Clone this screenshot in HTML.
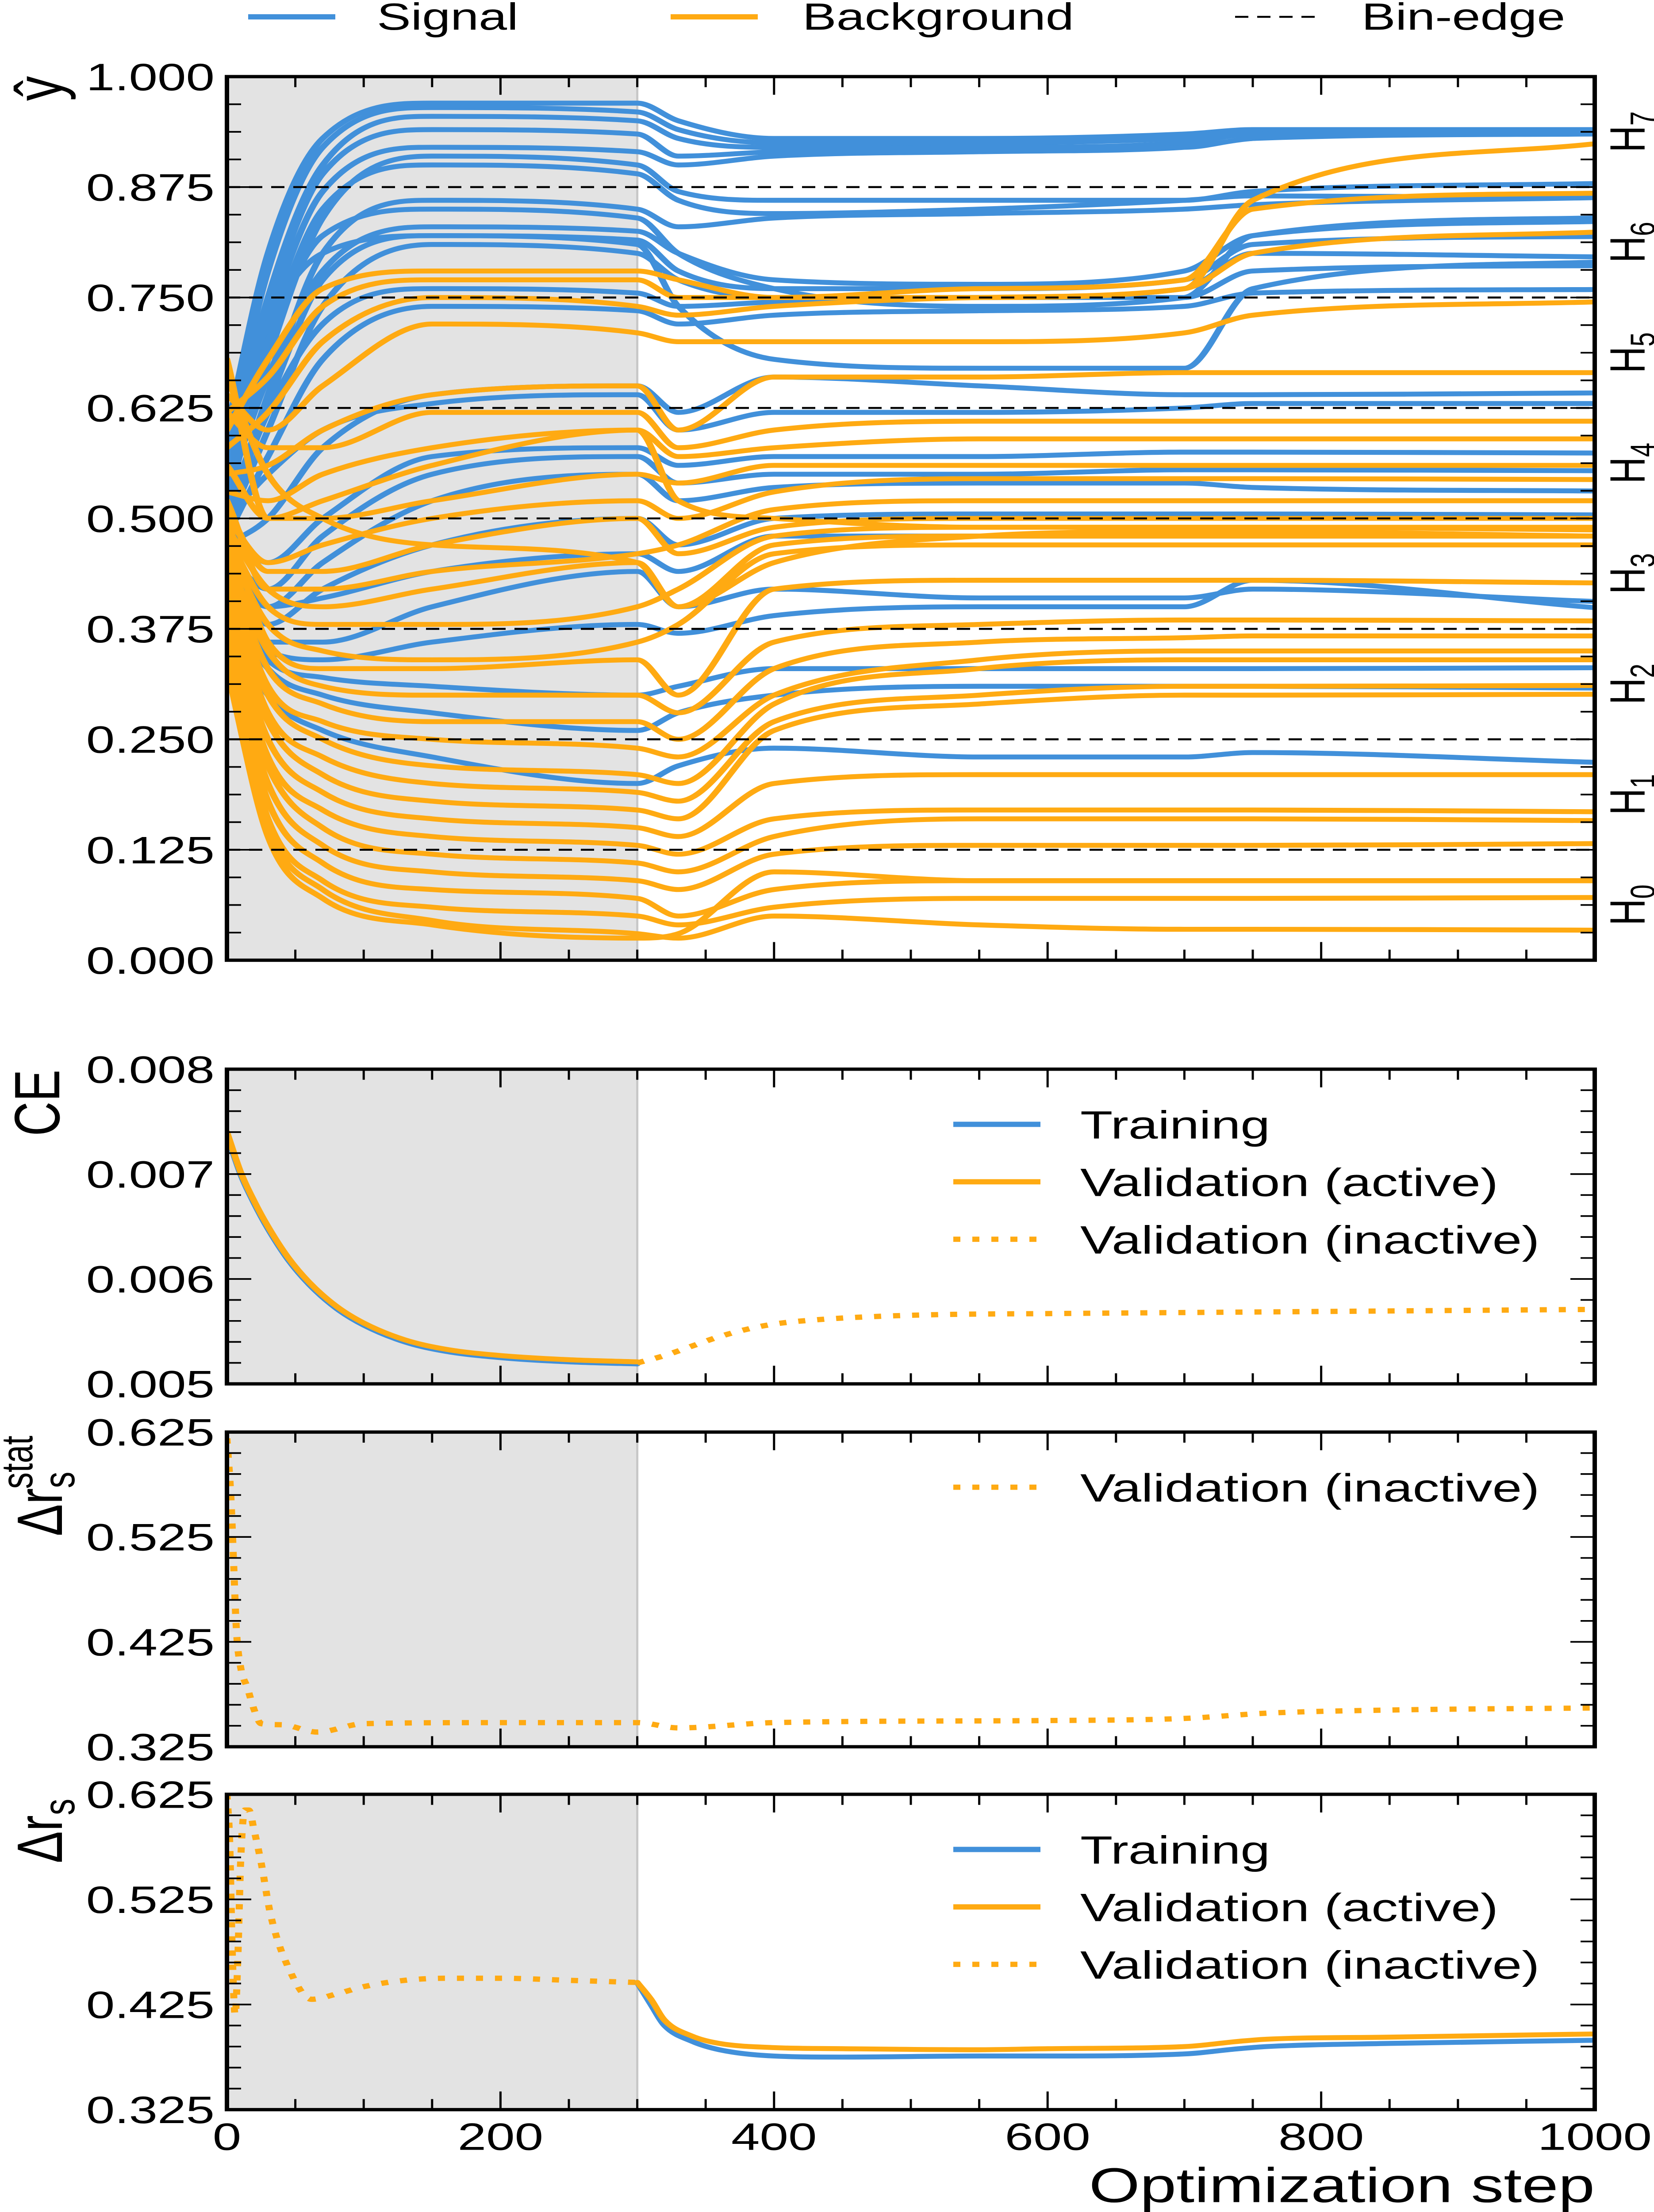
<!DOCTYPE html>
<html><head><meta charset="utf-8"><title>Optimization chart</title>
<style>
html,body{margin:0;padding:0;background:#fff;overflow:hidden;width:100%;height:100%;}
svg{display:block;position:absolute;left:0;top:0;width:100vw;height:100vh;font-family:"Liberation Sans",Arial,sans-serif;overflow:hidden;}
</style></head>
<body>
<svg id="chart" xmlns="http://www.w3.org/2000/svg" viewBox="0 0 3739 6699" preserveAspectRatio="none"></svg>
<script>
// ---------- DATA ----------
const steps = [0,30,70,150,300,330,400,550,700,750,1000];
const signalLines = [
 [.60,.80,.93,.97,.97,.95,.93,.93,.935,.94,.94],
 [.58,.78,.92,.965,.96,.94,.925,.925,.93,.935,.94],
 [.56,.75,.90,.955,.95,.93,.92,.92,.925,.935,.936],
 [.57,.74,.89,.94,.935,.91,.915,.92,.92,.93,.935],
 [.55,.72,.87,.92,.915,.90,.91,.915,.92,.93,.94],
 [.52,.68,.84,.91,.90,.87,.86,.86,.86,.87,.879],
 [.54,.70,.85,.90,.89,.86,.845,.85,.86,.865,.863],
 [.50,.64,.80,.86,.85,.83,.84,.845,.85,.855,.863],
 [.53,.66,.78,.83,.825,.80,.77,.765,.78,.82,.836],
 [.51,.63,.77,.82,.815,.78,.76,.76,.77,.81,.819],
 [.49,.60,.74,.81,.80,.77,.75,.75,.76,.80,.796],
 [.50,.62,.72,.76,.755,.74,.745,.75,.75,.78,.786],
 [.48,.57,.68,.74,.735,.72,.73,.735,.74,.755,.759],
 [.58,.72,.80,.82,.81,.74,.68,.67,.67,.76,.79],
 [.55,.70,.82,.85,.84,.80,.76,.74,.75,.82,.84],
 [.47,.50,.58,.64,.65,.62,.66,.65,.64,.64,.642],
 [.50,.55,.60,.63,.64,.60,.62,.62,.625,.63,.630],
 [.49,.45,.50,.57,.58,.56,.57,.57,.575,.575,.574],
 [.46,.42,.48,.55,.57,.54,.55,.55,.555,.555,.554],
 [.48,.40,.45,.52,.55,.52,.535,.54,.54,.535,.531],
 [.45,.38,.42,.47,.50,.47,.50,.505,.505,.505,.504],
 [.44,.40,.41,.44,.46,.44,.48,.48,.48,.48,.48],
 [.42,.36,.36,.40,.44,.40,.42,.41,.41,.42,.406],
 [.40,.35,.34,.36,.38,.37,.39,.40,.40,.43,.399],
 [.43,.34,.32,.31,.30,.31,.33,.33,.33,.33,.331],
 [.41,.33,.30,.28,.26,.28,.30,.31,.31,.31,.308],
 [.39,.30,.26,.23,.20,.22,.24,.23,.23,.235,.224]
];
const backgroundLines = [
 [.60,.68,.76,.78,.78,.77,.75,.75,.76,.86,.924],
 [.62,.66,.74,.77,.77,.75,.75,.76,.77,.85,.868],
 [.58,.62,.70,.75,.74,.73,.74,.75,.76,.80,.824],
 [.64,.60,.65,.72,.71,.70,.70,.70,.71,.73,.745],
 [.55,.56,.60,.64,.65,.60,.66,.66,.665,.665,.665],
 [.62,.58,.58,.62,.62,.58,.60,.61,.61,.61,.610],
 [.53,.52,.55,.58,.60,.57,.58,.59,.59,.59,.590],
 [.68,.50,.50,.52,.55,.54,.56,.56,.56,.56,.560],
 [.50,.45,.47,.50,.52,.50,.53,.545,.545,.545,.544],
 [.52,.42,.42,.44,.46,.47,.51,.52,.52,.52,.520],
 [.66,.55,.50,.47,.45,.40,.45,.48,.485,.485,.48],
 [.49,.42,.40,.42,.45,.40,.47,.48,.48,.48,.48],
 [.51,.44,.44,.47,.50,.46,.49,.50,.50,.50,.50],
 [.56,.50,.52,.56,.60,.52,.50,.49,.49,.49,.49],
 [.48,.40,.38,.38,.40,.42,.48,.49,.49,.49,.487],
 [.47,.38,.35,.34,.36,.38,.46,.47,.47,.47,.470],
 [.50,.36,.33,.33,.34,.30,.42,.43,.43,.43,.427],
 [.46,.35,.31,.30,.30,.28,.36,.38,.385,.385,.384],
 [.45,.33,.29,.27,.27,.25,.33,.36,.365,.367,.367],
 [.44,.31,.27,.25,.24,.23,.30,.34,.35,.35,.350],
 [.43,.30,.25,.22,.21,.20,.29,.33,.34,.34,.340],
 [.42,.28,.23,.20,.19,.18,.27,.30,.31,.31,.311],
 [.41,.27,.21,.18,.17,.16,.26,.29,.30,.30,.301],
 [.40,.25,.19,.16,.15,.14,.20,.21,.21,.21,.210],
 [.39,.23,.17,.14,.13,.12,.16,.17,.17,.17,.168],
 [.38,.22,.15,.12,.11,.10,.14,.16,.16,.16,.158],
 [.37,.20,.13,.10,.09,.08,.12,.13,.13,.13,.132],
 [.33,.14,.07,.04,.025,.03,.10,.09,.09,.09,.09],
 [.36,.18,.11,.08,.07,.05,.08,.09,.09,.09,.090],
 [.35,.16,.09,.06,.05,.04,.06,.07,.07,.07,.071],
 [.34,.15,.08,.045,.03,.025,.05,.04,.035,.035,.034]
];
const binEdges = [0.125,0.25,0.375,0.5,0.625,0.75,0.875];
const binLabels = ["0","1","2","3","4","5","6","7"];
const mainYTicks = ["0.000","0.125","0.250","0.375","0.500","0.625","0.750","0.875","1.000"];

const ceSteps = [0,10,20,30,45,60,80,100,130,160,200,250,300];
const ceTraining = [.00738,.0070,.00672,.00648,.00618,.00595,.00572,.00556,.0054,.00531,.00525,.00521,.00519];
const ceValActive = [.00740,.00702,.00674,.0065,.0062,.00597,.00574,.00558,.00542,.00533,.00527,.00523,.00521];
const ceInSteps = [300,320,340,360,380,400,430,470,520,600,700,800,900,1000];
const ceValInactive = [.00520,.00527,.00536,.00545,.00552,.00557,.00561,.00564,.00566,.00567,.00568,.00569,.00570,.00571];
const ceYTicks = ["0.005","0.006","0.007","0.008"];

const statSteps = [0,3,5,7,10,15,20,25,40,66,100,200,300,330,400,600,700,760,850,1000];
const statValInactive = [.619,.56,.496,.435,.401,.381,.36,.347,.346,.339,.347,.348,.348,.343,.348,.350,.352,.357,.360,.362];
const rTicks = ["0.325","0.425","0.525","0.625"];

const rsSteps = [300,310,320,340,360,400,450,550,600,700,740,760,850,1000];
const rsTraining = [.446,.425,.405,.39,.382,.376,.375,.376,.376,.378,.383,.385,.388,.391];
const rsValActive = [.446,.43,.41,.395,.388,.384,.383,.382,.383,.385,.390,.392,.394,.397];
const rsInSteps = [0,2,4,6,8,10,13,16,20,25,32,45,62,80,100,130,160,200,250,300];
const rsValInactive = [.625,.58,.47,.415,.47,.56,.61,.61,.59,.56,.51,.46,.43,.435,.442,.448,.45,.45,.448,.446];

const xTicks = ["0","200","400","600","800","1000"];

// ---------- LAYOUT ----------
const NS="http://www.w3.org/2000/svg";
const svg=document.getElementById('chart');
const L=513,R=3605;
const BLUE="#4190da",ORANGE="#ffaa12";
function X(s){return L+(s/1000)*(R-L);}
function mk(tag,attrs,parent){const e=document.createElementNS(NS,tag);for(const k in attrs)e.setAttribute(k,attrs[k]);(parent||svg).appendChild(e);return e;}
function yf(p){return v=>p.bot-(v-p.ymin)/(p.ymax-p.ymin)*(p.bot-p.top);}
function monoPath(pts){
  const n=pts.length;if(n<2)return "";
  const dx=[],m=[];
  for(let i=0;i<n-1;i++){dx.push(pts[i+1][0]-pts[i][0]);m.push((pts[i+1][1]-pts[i][1])/dx[i]);}
  const t=[m[0]];
  for(let i=1;i<n-1;i++){t.push(m[i-1]*m[i]<=0?0:(m[i-1]+m[i])/2);}
  t.push(m[n-2]);
  for(let i=0;i<n-1;i++){
    if(m[i]===0){t[i]=0;t[i+1]=0;continue;}
    const a=t[i]/m[i],b=t[i+1]/m[i],h=a*a+b*b;
    if(h>9){const s=3/Math.sqrt(h);t[i]=s*a*m[i];t[i+1]=s*b*m[i];}
  }
  let d="M"+pts[0][0].toFixed(1)+","+pts[0][1].toFixed(1);
  for(let i=0;i<n-1;i++){
    const h=dx[i]/3;
    d+="C"+(pts[i][0]+h).toFixed(1)+","+(pts[i][1]+t[i]*h).toFixed(1)+" "+(pts[i+1][0]-h).toFixed(1)+","+(pts[i+1][1]-t[i+1]*h).toFixed(1)+" "+pts[i+1][0].toFixed(1)+","+pts[i+1][1].toFixed(1);
  }
  return d;
}
const panels={
  main:{top:232,bot:2908,ymin:0,ymax:1,yMajor:0.125,yMinor:0.03125,name:'yhat-panel'},
  ce:{top:3238,bot:4191,ymin:0.005,ymax:0.008,yMajor:0.001,yMinor:0.0002,name:'ce-panel'},
  stat:{top:4337,bot:5290,ymin:0.325,ymax:0.625,yMajor:0.1,yMinor:0.02,name:'delta-r-stat-panel'},
  rs:{top:5434,bot:6389,ymin:0.325,ymax:0.625,yMajor:0.1,yMinor:0.02,name:'delta-r-panel'}
};
const defs=mk('defs',{});
function panelBase(p,key){
  const g=mk('g',{});
  
  
  const cp=mk('clipPath',{id:'clip-'+key},defs);
  mk('rect',{x:L,y:p.top,width:R-L,height:p.bot-p.top},cp);
  const sh=mk('rect',{x:L,y:p.top,width:X(300)-L,height:p.bot-p.top,fill:'#e3e3e3'},g);
  
  
  mk('line',{x1:X(300),x2:X(300),y1:p.top,y2:p.bot,stroke:'#c8c8c8','stroke-width':5},g);
  const dg=mk('g',{'clip-path':'url(#clip-'+key+')'},g);
  return {g,dg};
}
function panelFrame(p,g){
  const Y=yf(p);
  const fr=mk('rect',{x:L,y:p.top,width:R-L,height:p.bot-p.top,fill:'none',stroke:'#000','stroke-width':10},g);
  
  
  for(let s=0;s<=1000;s+=50){
    const len=(s%200===0)?55:32;
    mk('line',{x1:X(s),x2:X(s),y1:p.bot,y2:p.bot-len,stroke:'#000','stroke-width':5},g);
    mk('line',{x1:X(s),x2:X(s),y1:p.top,y2:p.top+len,stroke:'#000','stroke-width':5},g);
  }
  const nMin=Math.round((p.ymax-p.ymin)/p.yMinor);
  const ratio=Math.round(p.yMajor/p.yMinor);
  for(let i=0;i<=nMin;i++){
    const v=p.ymin+i*p.yMinor,len=(i%ratio===0)?55:32;
    mk('line',{x1:L,x2:L+len,y1:Y(v),y2:Y(v),stroke:'#000','stroke-width':5},g);
    mk('line',{x1:R,x2:R-len,y1:Y(v),y2:Y(v),stroke:'#000','stroke-width':5},g);
  }
}
function yLabels(p,g,labels){
  const Y=yf(p);
  labels.forEach(t=>{
    const tx=mk('text',{x:485,y:Y(parseFloat(t))+41,'text-anchor':'end','font-size':116},g);
    tx.textContent=t;
    
    
  });
}
function series(p,g,xs,ys,color,dotted,name){
  const Y=yf(p);
  const pts=xs.map((s,i)=>[X(s),Y(ys[i])]);
  const a={d:monoPath(pts),fill:'none',stroke:color,'stroke-width':dotted?16:15,'stroke-linejoin':'round'};
  if(dotted){a['stroke-dasharray']='16 27';}else{a['stroke-linecap']='round';}
  const e=mk('path',a,g);
  
  
  return e;
}
function legend(p,g,rows){
  rows.forEach((r,i)=>{
    const y=p.top+167+i*174;
    const ln=mk('line',{x1:2155,x2:2352,y1:y,y2:y,stroke:r.c,'stroke-width':16},g);
    if(r.dot)ln.setAttribute('stroke-dasharray','16 27');
    
    
    const t=mk('text',{x:2442,y:y+43,'font-size':120},g);
    t.textContent=r.t;
    
    
  });
}

// ---------- MAIN PANEL ----------
(function(){
  const p=panels.main,{g,dg}=panelBase(p,'main'),Y=yf(p);
  signalLines.forEach((v,i)=>{series(p,dg,steps,v,BLUE,false,'signal-line-'+i);});
  backgroundLines.forEach((v,i)=>{series(p,dg,steps,v,ORANGE,false,'background-line-'+i);});
  binEdges.forEach(b=>{
    const e=mk('line',{x1:L,x2:R,y1:Y(b),y2:Y(b),stroke:'#000','stroke-width':6,'stroke-dasharray':'30 20'},g);
    
    
  });
  panelFrame(p,g);
  yLabels(p,g,mainYTicks);
  binLabels.forEach((b,i)=>{
    const cy=Y((i+0.5)*0.125);
    const t=mk('text',{x:0,y:0,'font-size':112,'text-anchor':'middle',transform:'translate(3718,'+cy+') rotate(-90)'},g);
    
    
    t.appendChild(document.createTextNode('H'));
    const s=mk('tspan',{'font-size':78,dy:22},t);s.textContent=b;
  });
  const yt=mk('text',{x:0,y:0,'font-size':150,'text-anchor':'middle',transform:'translate(140,268) rotate(-90)'},g);
  yt.textContent='ŷ';
  
  
})();

// ---------- TOP LEGEND ----------
(function(){
  const g=mk('g',{});
  
  
  const items=[{x:561,c:BLUE,t:'Signal',tx:852},{x:1516,c:ORANGE,t:'Background',tx:1814},{x:2792,c:'#000',t:'Bin-edge',tx:3078,d:true}];
  items.forEach(it=>{
    const l=mk('line',{x1:it.x,x2:it.x+197,y1:51,y2:51,stroke:it.c,'stroke-width':it.d?6:16},g);
    if(it.d)l.setAttribute('stroke-dasharray','30 20');
    
    
    const t=mk('text',{x:it.tx,y:90,'font-size':115},g);
    t.textContent=it.t;
    
    
  });
})();

// ---------- CE PANEL ----------
(function(){
  const p=panels.ce,{g,dg}=panelBase(p,'ce');
  series(p,dg,ceSteps,ceTraining,BLUE,false,'ce-training-line');
  series(p,dg,ceSteps,ceValActive,ORANGE,false,'ce-validation-active-line');
  series(p,dg,ceInSteps,ceValInactive,ORANGE,true,'ce-validation-inactive-line');
  panelFrame(p,g);
  yLabels(p,g,ceYTicks);
  legend(p,g,[{c:BLUE,t:'Training'},{c:ORANGE,t:'Validation (active)'},{c:ORANGE,t:'Validation (inactive)',dot:true}]);
  const t=mk('text',{x:0,y:0,'font-size':145,'text-anchor':'middle',transform:'translate(134,3340) rotate(-90)'},g);
  t.textContent='CE';
  
  
})();

// ---------- STAT PANEL ----------
(function(){
  const p=panels.stat,{g,dg}=panelBase(p,'stat');
  series(p,dg,statSteps,statValInactive,ORANGE,true,'stat-validation-inactive-line');
  panelFrame(p,g);
  yLabels(p,g,rTicks);
  legend(p,g,[{c:ORANGE,t:'Validation (inactive)',dot:true}]);
  const t=mk('text',{x:0,y:0,'font-size':145,'text-anchor':'middle',transform:'translate(140,4500) rotate(-90)'},g);
  
  
  t.appendChild(document.createTextNode('Δr'));
  const s1=mk('tspan',{'font-size':100,dy:28},t);s1.textContent='s';
  const s2=mk('tspan',{'font-size':100,dx:-52,dy:-95},t);s2.textContent='stat';
})();

// ---------- RS PANEL ----------
(function(){
  const p=panels.rs,{g,dg}=panelBase(p,'rs');
  series(p,dg,rsInSteps,rsValInactive,ORANGE,true,'rs-validation-inactive-line');
  series(p,dg,rsSteps,rsTraining,BLUE,false,'rs-training-line');
  series(p,dg,rsSteps,rsValActive,ORANGE,false,'rs-validation-active-line');
  panelFrame(p,g);
  yLabels(p,g,rTicks);
  legend(p,g,[{c:BLUE,t:'Training'},{c:ORANGE,t:'Validation (active)'},{c:ORANGE,t:'Validation (inactive)',dot:true}]);
  const t=mk('text',{x:0,y:0,'font-size':145,'text-anchor':'middle',transform:'translate(140,5545) rotate(-90)'},g);
  
  
  t.appendChild(document.createTextNode('Δr'));
  const s1=mk('tspan',{'font-size':100,dy:28},t);s1.textContent='s';
  xTicks.forEach(v=>{
    const tx=mk('text',{x:X(parseFloat(v)),y:6511,'text-anchor':'middle','font-size':116},g);
    tx.textContent=v;
    
    
  });
  const xt=mk('text',{x:3605,y:6669,'text-anchor':'end','font-size':148},g);
  xt.textContent='Optimization step';
  
  
})();
</script>
</body></html>
